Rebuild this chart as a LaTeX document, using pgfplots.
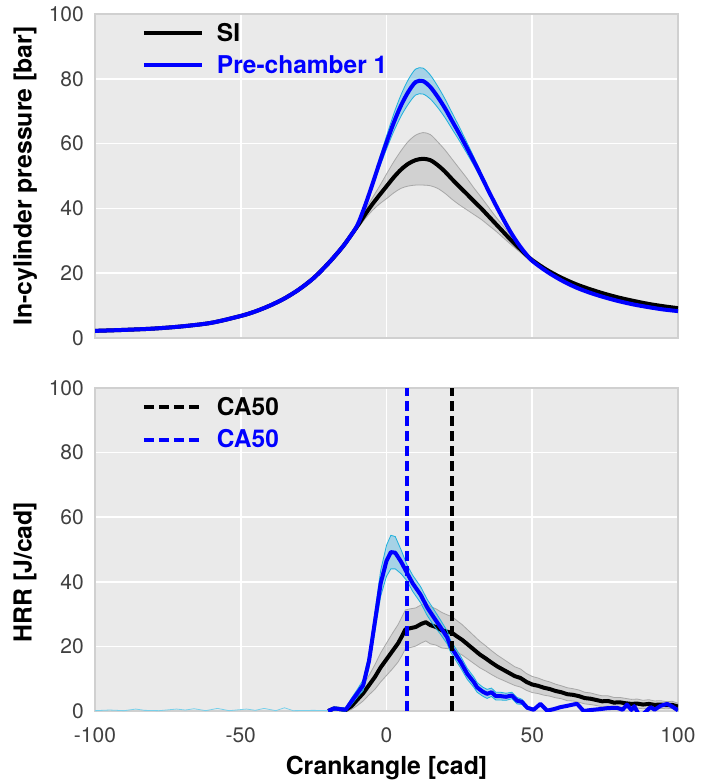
\documentclass[border=0pt]{standalone}
\usepackage{fontspec}
\setmainfont{TeX Gyre Heros}
\usepackage{pgfplots}
\pgfplotsset{compat=1.18}
\usepackage{pgfplotstable}
\usepgfplotslibrary{fillbetween}

\definecolor{bgc}{HTML}{EAEAEA}
\definecolor{bordc}{HTML}{D0D0D0}
\definecolor{tickc}{HTML}{404040}
\definecolor{siband}{HTML}{999999}
\definecolor{siedge}{HTML}{A8A8A8}
\definecolor{blband}{HTML}{40B0E0}
\definecolor{bledge}{HTML}{1EB0DC}
\definecolor{pcblue}{HTML}{0000FF}

% Pressure, SI
\pgfplotstableread{
x m lo hi
-100 2.2 2.0 2.4
-90 2.5 2.3 2.7
-80 2.9 2.7 3.1
-70 3.6 3.4 3.8
-60 4.7 4.5 4.9
-50 6.8 6.5 7.1
-45 8.2 7.9 8.5
-40 10.0 9.7 10.3
-35 12.2 11.9 12.5
-30 15.0 14.7 15.3
-25 18.5 18.1 18.9
-20 23.0 22.6 23.4
-15 28.2 27.7 28.7
-10 34.5 33.7 35.3
-7.5 37.9 36.6 39.2
-5 41.1 39.2 43.0
-2.5 44.0 41.3 46.7
0 46.8 43.0 50.6
2.5 49.6 44.8 54.4
5 52.0 46.2 57.8
7.5 53.8 46.9 60.7
10 54.9 47.2 62.6
12.5 55.3 47.2 63.4
15 54.9 47.0 62.8
17.5 53.4 46.2 60.6
20 51.4 44.7 58.1
22.5 49.0 42.8 55.2
25 46.7 41.1 52.3
27.5 44.5 39.6 49.4
30 42.2 38.1 46.3
32.5 40.0 36.6 43.4
35 37.6 34.8 40.4
37.5 35.2 33.0 37.4
40 32.8 31.0 34.6
42.5 30.4 29.0 31.8
45 28.2 27.1 29.3
47.5 26.0 25.2 26.8
50 24.0 23.3 24.7
55 21.0 20.4 21.6
60 18.6 18.1 19.1
65 16.6 16.2 17.0
70 15.0 14.6 15.4
75 13.6 13.3 13.9
80 12.4 12.1 12.7
85 11.4 11.1 11.7
90 10.5 10.2 10.8
95 9.8 9.5 10.1
100 9.2 8.9 9.5
}\pSI

% Pressure, Pre-chamber 1
\pgfplotstableread{
x m lo hi
-100 2.2 2.0 2.4
-90 2.5 2.3 2.7
-80 2.9 2.7 3.1
-70 3.6 3.4 3.8
-60 4.7 4.5 4.9
-50 6.8 6.5 7.1
-45 8.2 7.9 8.5
-40 10.0 9.7 10.3
-35 12.2 11.9 12.5
-30 15.0 14.7 15.3
-25 18.5 18.1 18.9
-20 23.0 22.6 23.4
-15 28.2 27.8 28.6
-12.5 31.3 30.8 31.8
-10 34.8 34.3 35.3
-7.5 40.5 39.8 41.2
-5 47.0 46.0 48.0
-2.5 53.8 52.3 55.3
0 60.3 58.3 62.3
2.5 66.5 63.8 69.2
5 71.8 68.5 75.1
7.5 76.0 72.2 79.8
10 79.0 75.0 83.0
12.5 79.3 75.3 83.3
15 77.5 73.8 81.2
17.5 74.5 71.2 77.8
20 71.0 68.1 73.9
22.5 67.0 64.5 69.5
25 63.0 60.9 65.1
27.5 58.8 57.1 60.5
30 54.5 53.2 55.8
32.5 50.0 49.0 51.0
35 45.4 44.6 46.2
37.5 41.0 40.4 41.6
40 36.8 36.3 37.3
42.5 32.8 32.4 33.2
45 29.3 28.9 29.7
47.5 26.3 26.0 26.6
50 23.8 23.5 24.1
55 20.5 20.2 20.8
60 17.8 17.5 18.1
65 15.6 15.3 15.9
70 13.9 13.6 14.2
75 12.5 12.2 12.8
80 11.3 11.0 11.6
85 10.3 10.0 10.6
90 9.5 9.2 9.8
95 8.8 8.5 9.1
100 8.3 8.0 8.6
}\pPC

% HRR, SI
\pgfplotstableread{
x m lo hi
-20 0.0 -0.3 0.3
-18 0.8 0.3 1.3
-16 0.6 0.1 1.1
-14 0.3 -0.3 0.9
-12 1.5 0.5 2.5
-10 3.5 1.7 5.3
-8 5.5 3.1 7.9
-6 8.0 5.0 11.0
-4 10.5 6.7 14.3
-2 13.5 9.0 18.0
0 16.0 11.0 21.0
2 18.5 13.0 24.0
4 21.0 15.2 26.8
5.5 23.5 17.5 29.5
6.5 25.3 19.3 31.3
8 25.6 19.6 31.6
10 26.0 20.1 31.9
12 27.0 21.1 32.9
13.5 27.5 21.7 33.3
15 26.6 20.8 32.4
17 26.0 20.4 31.6
19 25.0 19.5 30.5
21 24.5 19.3 29.7
22.5 24.2 19.2 29.2
24 23.2 18.3 28.1
26 22.0 17.3 26.7
28 20.5 16.0 25.0
30 19.0 14.7 23.3
32 17.5 13.4 21.6
34 16.3 12.4 20.2
36 15.0 11.3 18.7
38 13.8 10.3 17.3
40 12.8 9.5 16.1
42 11.8 8.7 14.9
44 10.8 7.9 13.7
46 10.2 7.4 13.0
48 9.0 6.4 11.6
50 8.2 5.7 10.7
52 7.8 5.4 10.2
54 7.2 4.9 9.5
56 6.8 4.6 9.0
58 6.2 4.1 8.3
60 5.8 3.8 7.8
62 5.2 3.2 7.2
64 5.0 3.1 6.9
66 4.6 2.7 6.5
68 4.0 2.2 5.8
70 3.8 2.0 5.6
72 3.4 1.7 5.1
74 3.0 1.3 4.7
76 3.1 1.5 4.7
78 2.6 1.0 4.2
80 2.7 1.2 4.2
82 2.4 0.9 3.9
84 2.2 0.8 3.6
86 2.3 0.9 3.7
88 2.0 0.7 3.3
90 2.2 0.9 3.5
92 1.9 0.7 3.1
94 2.0 0.8 3.2
96 1.8 0.7 2.9
98 1.9 0.8 3.0
100 1.4 0.4 2.4
}\hSI

% HRR, Pre-chamber 1
\pgfplotstableread{
x m lo hi
-20 0.0 -0.3 0.3
-18 0.8 0.3 1.3
-16 0.6 0.1 1.1
-14 0.4 -0.1 0.9
-12 3.0 2.0 4.0
-10 5.5 4.3 6.7
-8 8.0 6.3 9.7
-6 15.5 13.3 17.7
-4 27.5 24.5 30.5
-2 39.5 35.5 43.5
0 46.5 41.7 51.3
1.5 49.2 44.0 54.4
3 49.0 44.0 54.0
5 46.2 42.5 49.9
7 42.8 40.3 45.3
9 39.5 37.0 42.0
11.7 36.0 33.5 38.5
14 32.0 29.5 34.5
16.2 29.0 26.5 31.5
18.5 26.0 23.8 28.2
20.8 22.8 20.8 24.8
22 20.0 18.2 21.8
23 18.6 16.8 20.4
25.4 15.2 13.4 17.0
27.7 11.5 9.8 13.2
29.9 9.0 7.4 10.6
31.1 7.3 5.8 8.8
33 6.0 4.6 7.4
34.5 5.3 3.9 6.7
36 5.8 4.5 7.1
37.5 4.6 3.4 5.8
39.1 4.6 3.4 5.8
41 4.4 3.3 5.5
43 4.8 3.8 5.8
44.8 3.2 2.2 4.2
46.5 2.8 2.0 3.6
48.3 1.0 0.5 1.5
50.5 0.4 0.1 0.7
52.8 2.2 2.0 2.4
55.1 0.1 -0.1 0.3
57.5 0.6 0.4 0.8
59.7 1.2 1.0 1.4
62 1.6 1.4 1.8
64 2.0 1.8 2.2
65.4 2.2 2.0 2.4
67 0.6 0.4 0.8
67.7 0.0 -0.2 0.2
70 0.3 0.1 0.5
73.4 0.6 0.4 0.8
76 0.9 0.7 1.1
79 1.0 0.8 1.2
81 0.4 0.2 0.6
82.5 2.0 1.8 2.2
84 0.3 0.1 0.5
85 1.5 1.3 1.7
86.5 -1.0 -1.2 -0.8
88 -1.0 -1.2 -0.8
89.5 0.3 0.1 0.5
90.6 1.2 1.0 1.4
92 0.4 0.2 0.6
94 1.6 1.4 1.8
96.3 2.2 2.0 2.4
98 1.4 1.2 1.6
100 0.2 0.0 0.4
}\hPC

\pgfplotsset{
  panel/.style={
    scale only axis, width=583pt,
    xmin=-100, xmax=100, ymin=0, ymax=100,
    axis background/.style={fill=bgc},
    axis line style={draw=bordc, line width=2pt},
    grid=major, major grid style={white, line width=1.6pt},
    major tick length=0pt,
    xtick={-100,-50,0,50,100}, ytick={0,20,40,60,80,100},
    yticklabels={0,20,40,60,80,100},
    tick label style={font=\fontsize{21}{24}\selectfont, text=tickc, inner sep=0pt},
    yticklabel style={xshift=-11pt},
    xticklabel style={yshift=-16pt},
    every axis x label/.style={at={(axis description cs:0.5,0)}, anchor=north, yshift=-45pt, inner sep=0pt,
      font=\bfseries\fontsize{24.8}{29}\selectfont},
    legend cell align=left,
    legend image code/.code={\draw[#1] (0pt,0pt) -- (58pt,0pt);},
    legend style={draw=none, fill=none, at={(axis description cs:0.0806,0.972)}, anchor=north west,
      inner sep=0pt, outer sep=0pt, row sep=13pt, column sep=13pt,
      font=\bfseries\fontsize{24.5}{28}\selectfont, nodes={inner sep=0pt}},
  },
  ylab/.style={every axis y label/.style={at={(axis description cs:-0.12,#1)}, rotate=90, anchor=center,
      font=\bfseries\fontsize{24.8}{29}\selectfont}},
  sedge/.style={siedge, line width=0.8pt, forget plot},
  bedge/.style={bledge, line width=0.8pt, forget plot},
  meanline/.style={line width=4pt, line join=round},
  caline/.style={line width=4pt, dash pattern=on 10pt off 5pt},
}

\begin{document}
\begin{tikzpicture}

\begin{axis}[panel, ylab=0.5, at={(0pt,373pt)}, anchor=south west, height=324pt,
  xticklabels={}, ylabel={In-cylinder pressure [bar]}]
  \addplot[sedge, smooth, name path=sl] table[x=x,y=lo]{\pSI};
  \addplot[sedge, smooth, name path=sh] table[x=x,y=hi]{\pSI};
  \addplot[fill=siband, fill opacity=0.3, draw=none, forget plot] fill between[of=sl and sh];
  \addplot[black, meanline, smooth] table[x=x,y=m]{\pSI};
  \addlegendentry{SI}
  \addplot[bedge, smooth, name path=bl] table[x=x,y=lo]{\pPC};
  \addplot[bedge, smooth, name path=bh] table[x=x,y=hi]{\pPC};
  \addplot[fill=blband, fill opacity=0.4, draw=none, forget plot] fill between[of=bl and bh];
  \addplot[pcblue, meanline, smooth] table[x=x,y=m]{\pPC};
  \addlegendentry{\textcolor{pcblue}{Pre-chamber 1}}
\end{axis}

\begin{axis}[panel, ylab=0.43, at={(0pt,0pt)}, anchor=south west, height=323pt,
  xticklabels={-100,-50,0,50,100}, xlabel={Crankangle [cad]}, ylabel={HRR [J/cad]}]
  \addplot[bledge!60, line width=0.8pt, forget plot] coordinates {
    (-100,0.1) (-95,0.3) (-90,0.1) (-86,0.6) (-83,0.2) (-78,0.1) (-72,0.6) (-69,0.3) (-66,0.7)
    (-62,0.1) (-58,0.8) (-54,0.1) (-48,0.6) (-45,0.2) (-42,0.8) (-38,0.1) (-35,1.0) (-32,0.1) (-25,0.2) (-20,0.1)};
  \addplot[sedge, name path=hsl] table[x=x,y=lo]{\hSI};
  \addplot[sedge, name path=hsh] table[x=x,y=hi]{\hSI};
  \addplot[fill=siband, fill opacity=0.3, draw=none, forget plot] fill between[of=hsl and hsh];
  \addplot[black, meanline, forget plot] table[x=x,y=m]{\hSI};
  \addplot[bedge, name path=hbl] table[x=x,y=lo]{\hPC};
  \addplot[bedge, name path=hbh] table[x=x,y=hi]{\hPC};
  \addplot[fill=blband, fill opacity=0.4, draw=none, forget plot] fill between[of=hbl and hbh];
  \addplot[pcblue, meanline, forget plot] table[x=x,y=m]{\hPC};
  \addplot[black, caline] coordinates {(22.5,0) (22.5,100)};
  \addlegendentry{CA50}
  \addplot[pcblue, caline] coordinates {(7.2,0) (7.2,100)};
  \addlegendentry{\textcolor{pcblue}{CA50}}
\end{axis}

\pgfresetboundingbox
\useasboundingbox (-95pt,-70pt) rectangle (619pt,711pt);
\end{tikzpicture}
\end{document}
